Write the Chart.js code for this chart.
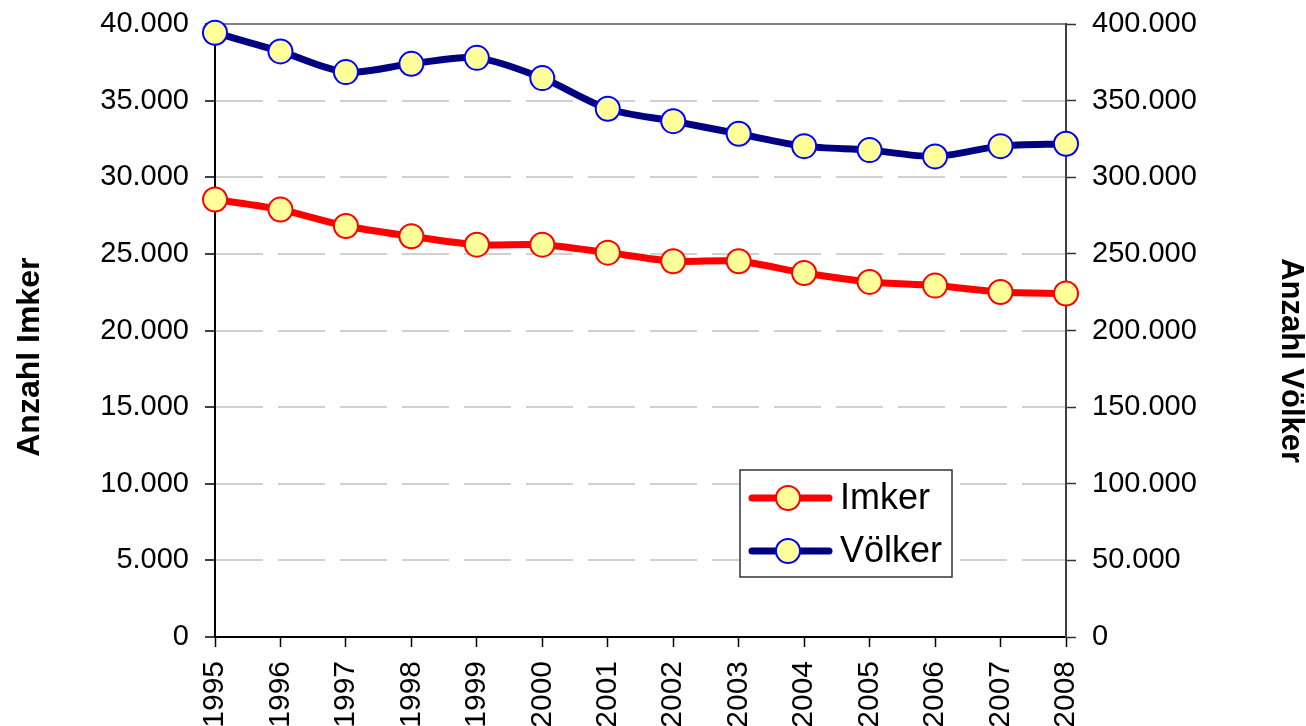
<!DOCTYPE html>
<html>
<head>
<meta charset="utf-8">
<title>Imker und Völker</title>
<script src="https://cdn.jsdelivr.net/npm/chart.js@4/dist/chart.umd.min.js"></script>
<style>
  html, body { margin: 0; padding: 0; background: #fff; }
  #wrap { width: 1306px; height: 726px; }
</style>
</head>
<body>
<div id="wrap"><canvas id="chart" width="1306" height="726"></canvas></div>
<script>
var years = ['1995', '1996', '1997', '1998', '1999', '2000', '2001',
             '2002', '2003', '2004', '2005', '2006', '2007', '2008'];
var imker = [28550, 27890, 26820, 26150, 25600, 25600, 25080,
             24520, 24520, 23750, 23170, 22930, 22510, 22410];
var voelker = [394300, 382100, 368600, 374000, 377900, 364700, 344700,
               336600, 328400, 320300, 317700, 313600, 320300, 321900];
var imkerTicks = [0, 5000, 10000, 15000, 20000, 25000, 30000, 35000, 40000];
var voelkerTicks = [0, 50000, 100000, 150000, 200000, 250000, 300000, 350000, 400000];

var FONT = '"Liberation Sans", Arial, sans-serif';

function fmt(v) {
  return v.toLocaleString('de-DE');
}

// legend box drawn inside the plot like the original
var boxLegend = {
  id: 'boxLegend',
  afterDatasetsDraw: function(chart) {
    var ctx = chart.ctx;
    var a = chart.chartArea;
    var x = a.left + 525, y = a.top + 446, w = 212, h = 107;
    ctx.save();
    ctx.fillStyle = '#fff';
    ctx.fillRect(x, y, w, h);
    ctx.strokeStyle = '#333';
    ctx.lineWidth = 1.5;
    ctx.strokeRect(x, y, w, h);
    chart.data.datasets.forEach(function(ds, i) {
      var cy = y + 28 + i * 53;
      ctx.strokeStyle = ds.borderColor;
      ctx.lineWidth = ds.borderWidth;
      ctx.lineCap = 'round';
      ctx.beginPath();
      ctx.moveTo(x + 12, cy);
      ctx.lineTo(x + 89, cy);
      ctx.stroke();
      ctx.beginPath();
      ctx.arc(x + 48, cy, ds.pointRadius, 0, Math.PI * 2);
      ctx.fillStyle = ds.pointBackgroundColor;
      ctx.fill();
      ctx.lineWidth = ds.pointBorderWidth;
      ctx.strokeStyle = ds.pointBorderColor;
      ctx.stroke();
      ctx.fillStyle = '#000';
      ctx.font = '36px ' + FONT;
      ctx.textBaseline = 'middle';
      ctx.textAlign = 'left';
      ctx.fillText(ds.label, x + 100, cy + 1);
    });
    ctx.restore();
  }
};

function fitSide(w) {
  return function(s) {
    s.width = w;
    s.paddingTop = 0;
    s.paddingBottom = 0;
  };
}

new Chart(document.getElementById('chart').getContext('2d'), {
  type: 'line',
  data: {
    labels: years,
    datasets: [{
      label: 'Imker',
      data: imker,
      yAxisID: 'y',
      borderColor: '#ff0000',
      borderWidth: 7,
      pointRadius: 12,
      pointBorderWidth: 2,
      pointBackgroundColor: '#ffff99',
      pointBorderColor: '#ff0000',
      tension: 0.3,
      clip: false
    }, {
      label: 'Völker',
      data: voelker,
      yAxisID: 'y1',
      borderColor: '#000080',
      borderWidth: 7,
      pointRadius: 12,
      pointBorderWidth: 2,
      pointBackgroundColor: '#ffff99',
      pointBorderColor: '#0000ff',
      tension: 0.3,
      clip: false
    }]
  },
  options: {
    responsive: false,
    animation: false,
    layout: { padding: { top: 24, left: 0, right: 0, bottom: 0 } },
    plugins: {
      legend: { display: false },
      tooltip: { enabled: false }
    },
    scales: {
      x: {
        offset: false,
        grid: { drawOnChartArea: false, tickLength: 10, tickColor: '#000', tickWidth: 1.5 },
        border: { color: '#000', width: 2 },
        ticks: {
          autoSkip: false, minRotation: 90, maxRotation: 90, padding: 14,
          color: '#000', font: { family: FONT, size: 30 }
        },
        afterFit: function(s) { s.height = 89; s.paddingLeft = 0; s.paddingRight = 0; }
      },
      y: {
        position: 'left',
        min: 0, max: 40000,
        afterBuildTicks: function(s) { s.ticks = imkerTicks.map(function(v) { return { value: v }; }); },
        grid: {
          color: function(c) {
            if (!c.tick) return '#d0d0d0';
            if (c.tick.value === 40000) return '#808080';
            if (c.tick.value === 0) return 'rgba(0,0,0,0)';
            return '#d0d0d0';
          },
          lineWidth: 2,
          tickLength: 10, tickColor: '#000', tickWidth: 1.5
        },
        border: {
          color: '#000', width: 2,
          dash: function(c) { return c.tick && c.tick.value !== 40000 ? [47, 15] : []; }
        },
        ticks: {
          padding: 16, color: '#000', font: { family: FONT, size: 29 },
          callback: function(v) { return fmt(v); }
        },
        title: {
          // trailing spaces push the title a bit lower, as in the original
          display: true, text: 'Anzahl Imker      ', color: '#000',
          font: { family: FONT, size: 32, weight: 'bold', lineHeight: 1 },
          padding: { top: 14, bottom: 0 }
        },
        afterFit: fitSide(215)
      },
      y1: {
        position: 'right',
        min: 0, max: 400000,
        afterBuildTicks: function(s) { s.ticks = voelkerTicks.map(function(v) { return { value: v }; }); },
        grid: { drawOnChartArea: false, tickLength: 10, tickColor: '#333', tickWidth: 1.5 },
        border: { color: '#404040', width: 2 },
        ticks: {
          padding: 16, color: '#000', font: { family: FONT, size: 29 },
          callback: function(v) { return fmt(v); }
        },
        title: {
          display: true, text: '       Anzahl Völker', color: '#000',
          font: { family: FONT, size: 31, weight: 'bold', lineHeight: 1 },
          padding: { top: 0, bottom: 0 }
        },
        afterFit: fitSide(240)
      }
    }
  },
  plugins: [boxLegend]
});
</script>
</body>
</html>
